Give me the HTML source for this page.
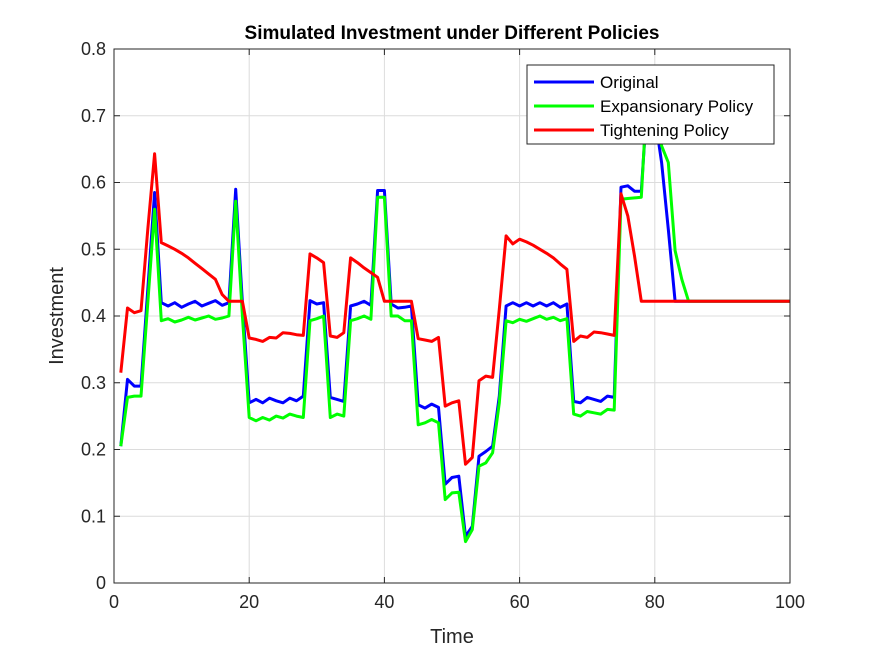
<!DOCTYPE html>
<html><head><meta charset="utf-8"><style>
body{margin:0;background:#fff;}
svg{display:block;font-family:"Liberation Sans",Arial,sans-serif;}
</style></head><body>
<svg id="chart" width="875" height="656">
<defs><clipPath id="plotclip"><rect x="114" y="49" width="676" height="534"/></clipPath></defs>
<rect width="875" height="656" fill="#fff"/>
<g id="grid"></g>
<g id="series" clip-path="url(#plotclip)"></g>
<g id="axes"></g>
</svg>
<script>
const xTicks=[0,20,40,60,80,100];
const yTicks=[0,0.1,0.2,0.3,0.4,0.5,0.6,0.7,0.8];
const original=[0.205,0.305,0.295,0.295,0.44,0.585,0.42,0.415,0.42,0.413,0.418,0.422,0.415,0.419,0.423,0.416,0.42,0.59,0.42,0.27,0.275,0.27,0.277,0.273,0.27,0.277,0.273,0.28,0.423,0.418,0.42,0.278,0.275,0.272,0.415,0.418,0.422,0.416,0.588,0.588,0.418,0.412,0.413,0.415,0.267,0.262,0.268,0.263,0.148,0.158,0.16,0.07,0.085,0.19,0.197,0.205,0.28,0.415,0.42,0.415,0.42,0.415,0.42,0.415,0.42,0.413,0.418,0.272,0.27,0.278,0.275,0.272,0.28,0.278,0.593,0.595,0.587,0.587,0.74,0.70,0.63,0.53,0.422];
const expansionary=[0.205,0.278,0.28,0.28,0.42,0.56,0.393,0.396,0.391,0.394,0.398,0.394,0.397,0.4,0.395,0.397,0.4,0.572,0.4,0.248,0.243,0.248,0.244,0.25,0.247,0.253,0.25,0.248,0.393,0.396,0.4,0.248,0.253,0.25,0.393,0.396,0.4,0.395,0.578,0.578,0.4,0.4,0.393,0.393,0.237,0.24,0.245,0.24,0.125,0.135,0.136,0.062,0.08,0.175,0.18,0.195,0.27,0.393,0.39,0.395,0.392,0.396,0.4,0.395,0.398,0.393,0.396,0.253,0.25,0.257,0.255,0.253,0.26,0.259,0.575,0.576,0.577,0.578,0.76,0.72,0.655,0.63,0.498,0.455,0.422];
const tightening=[0.315,0.412,0.405,0.408,0.53,0.643,0.51,0.505,0.5,0.494,0.487,0.479,0.471,0.463,0.455,0.432,0.422,0.422,0.422,0.367,0.365,0.362,0.368,0.367,0.375,0.374,0.372,0.371,0.493,0.487,0.48,0.37,0.368,0.375,0.487,0.48,0.472,0.465,0.458,0.422,0.422,0.422,0.422,0.422,0.366,0.364,0.362,0.368,0.265,0.27,0.273,0.178,0.188,0.303,0.31,0.308,0.41,0.52,0.508,0.515,0.511,0.506,0.5,0.494,0.487,0.478,0.47,0.362,0.37,0.368,0.376,0.375,0.373,0.371,0.583,0.55,0.49,0.422];
const steady=0.422, nT=100;
const X0=114,X1=790,Y0=583,Y1=49;
const sx=t=>X0+(t-0)/(100-0)*(X1-X0);
const sy=v=>Y0-(v-0)/(0.8-0)*(Y0-Y1);
const NS="http://www.w3.org/2000/svg";
function mk(tag,attrs,parent){const e=document.createElementNS(NS,tag);for(const k in attrs)e.setAttribute(k,attrs[k]);parent.appendChild(e);return e;}
const grid=document.getElementById('grid'),ser=document.getElementById('series'),ax=document.getElementById('axes');
xTicks.forEach(t=>{const l=mk('line',{x1:sx(t),x2:sx(t),y1:Y0,y2:Y1,stroke:'#dcdcdc','stroke-width':1},grid);

});
yTicks.forEach(v=>{const l=mk('line',{x1:X0,x2:X1,y1:sy(v),y2:sy(v),stroke:'#dcdcdc','stroke-width':1},grid);

});
function full(arr){const o=[];for(let i=0;i<nT;i++)o.push(i<arr.length?arr[i]:steady);return o;}
function drawLine(arr,color,name){const d=full(arr).map((v,i)=>(i?'L':'M')+sx(i+1).toFixed(1)+' '+sy(v).toFixed(1)).join(' ');
const p=mk('path',{d:d,fill:'none',stroke:color,'stroke-width':3,'stroke-linejoin':'round'},ser);

}
drawLine(original,'#0000ff','original-line');
drawLine(expansionary,'#00ff00','expansionary-line');
drawLine(tightening,'#ff0000','tightening-line');
const box=mk('rect',{x:X0,y:Y1,width:X1-X0,height:Y0-Y1,fill:'none',stroke:'#262626','stroke-width':1},ax);


xTicks.forEach(t=>{mk('line',{x1:sx(t),x2:sx(t),y1:Y0,y2:Y0-6,stroke:'#262626'},ax);mk('line',{x1:sx(t),x2:sx(t),y1:Y1,y2:Y1+6,stroke:'#262626'},ax);
const tx=mk('text',{x:sx(t),y:Y0+25,'text-anchor':'middle','font-size':18,fill:'#262626'},ax);tx.textContent=t;

});
yTicks.forEach(v=>{mk('line',{x1:X0,x2:X0+6,y1:sy(v),y2:sy(v),stroke:'#262626'},ax);mk('line',{x1:X1,x2:X1-6,y1:sy(v),y2:sy(v),stroke:'#262626'},ax);
const tx=mk('text',{x:X0-8,y:sy(v)+6,'text-anchor':'end','font-size':18,fill:'#262626'},ax);tx.textContent=(v===0?'0':v.toFixed(1));

});
</script>
<script>
(function(){const svg=document.getElementById('chart');const NS="http://www.w3.org/2000/svg";
function mk(tag,attrs,txt){const e=document.createElementNS(NS,tag);for(const k in attrs)e.setAttribute(k,attrs[k]);if(txt)e.textContent=txt;svg.appendChild(e);return e;}
let t=mk('text',{x:452,y:39,'text-anchor':'middle','font-size':19,'font-weight':'bold',fill:'#000'},'Simulated Investment under Different Policies');


t=mk('text',{x:452,y:643,'text-anchor':'middle','font-size':20,fill:'#262626'},'Time');


t=mk('text',{x:0,y:0,'text-anchor':'middle','font-size':20,fill:'#262626',transform:'translate(63,316) rotate(-90)'},'Investment');


const lg=mk('rect',{x:527,y:65,width:247,height:79,fill:'#fff',stroke:'#262626','stroke-width':1});


const items=[['Original','#0000ff'],['Expansionary Policy','#00ff00'],['Tightening Policy','#ff0000']];
items.forEach((it,i)=>{const y=82+i*24;
const l=mk('line',{x1:534,x2:594,y1:y,y2:y,stroke:it[1],'stroke-width':3});


const tx=mk('text',{x:600,y:y+6,'font-size':17,fill:'#000'},it[0]);

});
})();
</script>
</body></html>
